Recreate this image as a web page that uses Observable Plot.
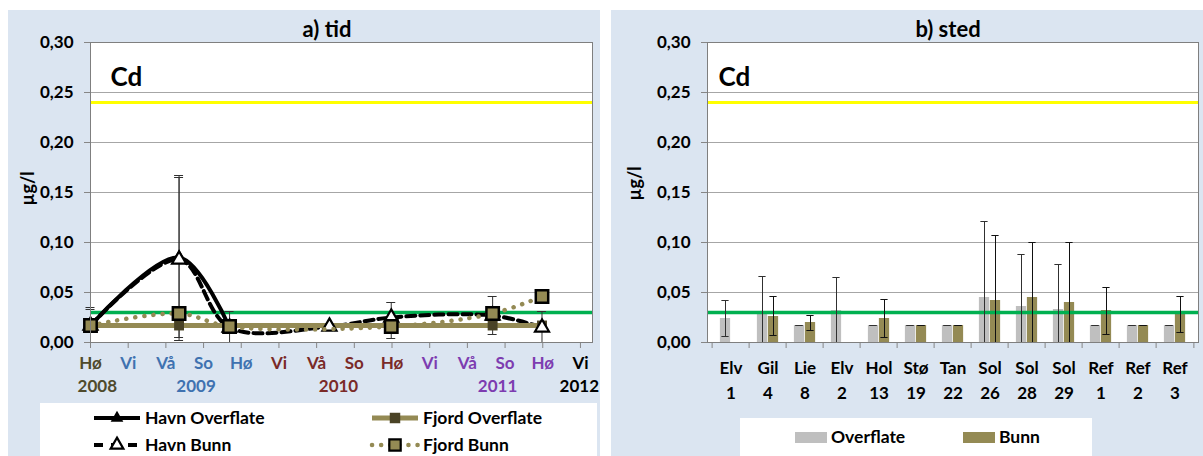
<!DOCTYPE html>
<html>
<head>
<meta charset="utf-8">
<script src="https://cdn.jsdelivr.net/npm/d3@7"></script>
<script src="https://cdn.jsdelivr.net/npm/@observablehq/plot@0.6"></script>
<style>
  body { margin: 0; background: #ffffff; font-family: Lato, "Open Sans", sans-serif; }
  #wrap { position: relative; width: 1203px; height: 456px; overflow: hidden; }
  .panel { position: absolute; top: 10px; height: 446px; background: #dbe5f1; }
  .panel svg.chart { position: absolute; left: 0; top: 0; }
  .title { position: absolute; font-weight: bold; font-size: 22px; transform: translate(-50%, -50%); white-space: nowrap; color: #000; }
  .legend { position: absolute; background: #ffffff; }
  .legend svg { display: block; }
</style>
</head>
<body>
<div id="wrap">
  <div class="panel" id="pA" style="left:8px; width:592px;">
    <div class="title" style="left:319px; top:18px;">a) tid</div>
    <div class="legend" id="legA" style="left:32px; top:393px; width:557px; height:53px;"></div>
  </div>
  <div class="panel" id="pB" style="left:611px; width:592px;">
    <div class="title" style="left:337px; top:18px;">b) sted</div>
    <div class="legend" id="legB" style="left:129px; top:408px; width:352px; height:38px;"></div>
  </div>
</div>
<script>
// ---------- shared ----------
const yTicks = [0, 0.05, 0.10, 0.15, 0.20, 0.25, 0.30];
const limitHigh = 0.24;   // yellow line
const limitLow = 0.03;    // green line
const element = "Cd";
const unit = "µg/l";

// ---------- a) tid ----------
const seasons = ["Hø","Vi","Vå","So","Hø","Vi","Vå","So","Hø","Vi","Vå","So","Hø","Vi"];
const seasonYear = ["2008","2009","2009","2009","2009","2010","2010","2010","2010","2011","2011","2011","2011","2012"];
const years = ["2008","2009","2010","2011","2012"];
const yearPos = [0.18, 2.8, 6.58, 10.8, 12.97];
const yearColors = ["#4f4a2c", "#3f72b0", "#7a2a28", "#7d3cb0", "#000000"];

// sampling times on the season axis (0 = Hø 2008)
const sampleTime = [0, 2.35, 3.69, 6.34, 7.98, 10.67, 11.98];
const havnOverflate = [0.017, 0.085, 0.015, null, null, null, null];
const havnOverflateLo = [0.000, 0.005, 0.000, null, null, null, null];
const havnOverflateHi = [0.035, 0.167, 0.031, null, null, null, null];
const havnBunn = [0.017, 0.083, 0.015, 0.016, 0.025, 0.027, 0.015];
const havnBunnLo = [0.000, 0.002, null, null, 0.004, 0.008, 0.000];
const havnBunnHi = [0.033, 0.165, null, null, 0.040, 0.046, 0.031];
const fjordOverflate = [0.017, 0.017, 0.017, null, 0.017, 0.017, 0.017];
const fjordBunn = [0.017, 0.029, 0.016, null, 0.016, 0.029, 0.046];

// ---------- b) sted ----------
const stations = ["Elv\n1","Gil\n4","Lie\n8","Elv\n2","Hol\n13","Stø\n19","Tan\n22","Sol\n26","Sol\n28","Sol\n29","Ref\n1","Ref\n2","Ref\n3"];
const overflate   = [0.024, 0.029, 0.017, 0.032, 0.017, 0.017, 0.017, 0.045, 0.036, 0.033, 0.017, 0.017, 0.017];
const overflateLo = [0.006, 0.000, 0.017, 0.000, 0.017, 0.017, 0.017, 0.000, 0.000, 0.000, 0.017, 0.017, 0.017];
const overflateHi = [0.042, 0.066, 0.017, 0.065, 0.017, 0.017, 0.017, 0.121, 0.088, 0.078, 0.017, 0.017, 0.017];
const bunn   = [null, 0.026, 0.020, null, 0.024, 0.017, 0.017, 0.042, 0.045, 0.040, 0.032, 0.017, 0.029];
const bunnLo = [null, 0.007, 0.012, null, 0.005, 0.017, 0.017, 0.000, 0.000, 0.000, 0.008, 0.017, 0.010];
const bunnHi = [null, 0.046, 0.027, null, 0.043, 0.017, 0.017, 0.107, 0.100, 0.100, 0.055, 0.017, 0.046];

// ---------- styles ----------
const olive = "#948a54";
const darkOlive = "#4a4326";
const grayBar = "#bfbfbf";
const axisGray = "#868686";
const gridGray = "#a6a6a6";
const errColor = "#303030";
const svgStyle = "font-family: Lato, 'Open Sans', sans-serif; font-size: 17px; font-weight: bold; background: transparent; overflow: visible;";
const fmt = d => d.toFixed(2).replace(".", ",");

// ---------- chart a ----------
(function () {
  const idx = d3.range(sampleTime.length);
  const ser = arr => idx.filter(i => arr[i] != null).map(i => ({t: sampleTime[i], v: arr[i]}));
  const err = (lo, hi) => idx.filter(i => lo[i] != null).map(i => ({t: sampleTime[i], lo: lo[i], hi: hi[i]}));
  const ho = ser(havnOverflate), hb = ser(havnBunn), fo = ser(fjordOverflate), fb = ser(fjordBunn);
  const errs = err(havnOverflateLo, havnOverflateHi).concat(err(havnBunnLo, havnBunnHi));

  const seasonMarks = years.map((yr, k) =>
    Plot.text(d3.range(seasons.length).filter(i => seasonYear[i] === yr), {
      x: i => i, text: i => seasons[i], frameAnchor: "bottom", dy: 21, lineAnchor: "middle", fill: yearColors[k]
    }));
  const yearMarks = years.map((yr, k) =>
    Plot.text([yr], {x: () => yearPos[k], text: d => d, frameAnchor: "bottom", dy: 44, lineAnchor: "middle", fill: yearColors[k]}));

  const chart = Plot.plot({
    width: 592, height: 394,
    marginLeft: 82, marginRight: 8, marginTop: 32, marginBottom: 62,
    x: {domain: [0, 13.32]},
    y: {domain: [0, 0.30]},
    style: svgStyle,
    marks: [
      Plot.frame({fill: "white"}),
      Plot.gridY(yTicks, {stroke: gridGray, strokeOpacity: 1}),
      Plot.ruleY([limitHigh], {stroke: "#ffff00", strokeWidth: 3}),
      Plot.ruleY([limitLow], {stroke: "#00b050", strokeWidth: 3.5}),
      Plot.ruleX(errs, {x: "t", y1: "lo", y2: "hi", stroke: errColor, strokeWidth: 1}),
      Plot.ruleY(errs, {x1: "t", x2: "t", y: "hi", insetLeft: -4.5, insetRight: -4.5, stroke: errColor}),
      Plot.ruleY(errs, {x1: "t", x2: "t", y: "lo", insetLeft: -4.5, insetRight: -4.5, stroke: errColor}),
      Plot.line(ho, {x: "t", y: "v", curve: "catmull-rom", stroke: "black", strokeWidth: 4}),
      Plot.dot(ho, {x: "t", y: "v", symbol: "triangle", r: 5.2, fill: "black"}),
      Plot.line(hb, {x: "t", y: "v", curve: "catmull-rom", stroke: "black", strokeWidth: 4, strokeDasharray: "9 5"}),
      Plot.line(fo, {x: "t", y: "v", stroke: olive, strokeWidth: 5}),
      Plot.dot(fo, {x: "t", y: "v", symbol: "square", r: 5.6, fill: darkOlive}),
      Plot.dot(hb, {x: "t", y: "v", symbol: "triangle", r: 5.2, fill: "white", stroke: "black", strokeWidth: 2.2}),
      Plot.line(fb, {x: "t", y: "v", curve: "catmull-rom", stroke: olive, strokeWidth: 4.5, strokeDasharray: "0.1 9", strokeLinecap: "round"}),
      Plot.dot(fb, {x: "t", y: "v", symbol: "square", r: 7, fill: olive, stroke: "black", strokeWidth: 2.5}),
      Plot.axisY({ticks: yTicks, tickFormat: fmt, tickSize: 6, tickPadding: 11, stroke: axisGray, label: null}),
      Plot.axisX({ticks: d3.range(seasons.length), tickFormat: () => "", tickSize: 6, stroke: axisGray, label: null}),
      ...seasonMarks,
      ...yearMarks,
      Plot.text([element], {text: d => d, frameAnchor: "top-left", dx: 20, dy: 35, lineAnchor: "middle", fontSize: 26}),
      Plot.text([unit], {text: d => d, frameAnchor: "left", rotate: -90, dx: -62, dy: 13, fontSize: 18}),
      Plot.frame({stroke: "#7f7f7f"})
    ]
  });
  chart.classList.add("chart");
  document.getElementById("pA").prepend(chart);
})();

// ---------- chart b ----------
(function () {
  const plotW = 592 - 96 - 5;
  const bw = plotW / stations.length;
  const barW = 11;
  const cap = 4;
  const ov = stations.map((s, i) => ({s, v: overflate[i], lo: overflateLo[i], hi: overflateHi[i]}));
  const bu = stations.map((s, i) => ({s, v: bunn[i], lo: bunnLo[i], hi: bunnHi[i]})).filter(d => d.v != null);
  const gL = bw / 2 - barW / 2, oL = bw / 2 + barW / 2;

  const chart = Plot.plot({
    width: 592, height: 394,
    marginLeft: 96, marginRight: 5, marginTop: 32, marginBottom: 62,
    x: {type: "band", domain: stations, padding: 0},
    y: {domain: [0, 0.30]},
    style: svgStyle,
    marks: [
      Plot.frame({fill: "white"}),
      Plot.gridY(yTicks, {stroke: gridGray, strokeOpacity: 1}),
      Plot.ruleY([limitHigh], {stroke: "#ffff00", strokeWidth: 3}),
      Plot.barY(ov, {x: "s", y: "v", fill: grayBar, insetLeft: bw / 2 - barW, insetRight: bw / 2}),
      Plot.barY(bu, {x: "s", y: "v", fill: olive, insetLeft: bw / 2, insetRight: bw / 2 - barW}),
      Plot.ruleY([limitLow], {stroke: "#00b050", strokeWidth: 3.5}),
      Plot.ruleX(ov, {x: "s", y1: "lo", y2: "hi", dx: -barW / 2, stroke: errColor}),
      Plot.tickY(ov, {x: "s", y: "hi", insetLeft: gL - cap, insetRight: bw - gL - cap, stroke: errColor}),
      Plot.tickY(ov, {x: "s", y: "lo", insetLeft: gL - cap, insetRight: bw - gL - cap, stroke: errColor}),
      Plot.ruleX(bu, {x: "s", y1: "lo", y2: "hi", dx: barW / 2, stroke: "#111"}),
      Plot.tickY(bu, {x: "s", y: "hi", insetLeft: oL - cap, insetRight: bw - oL - cap, stroke: "#111"}),
      Plot.tickY(bu, {x: "s", y: "lo", insetLeft: oL - cap, insetRight: bw - oL - cap, stroke: "#111"}),
      Plot.ruleX(stations, {x: d => d, dx: -bw / 2, insetTop: 300, insetBottom: -6, stroke: axisGray}),
      Plot.ruleX([stations[stations.length - 1]], {x: d => d, dx: bw / 2, insetTop: 300, insetBottom: -6, stroke: axisGray}),
      Plot.axisY({ticks: yTicks, tickFormat: fmt, tickSize: 6, tickPadding: 11, stroke: axisGray, label: null}),
      Plot.axisX({tickSize: 0, tickPadding: 14, lineHeight: 1.45, label: null}),
      Plot.text([element], {text: d => d, frameAnchor: "top-left", dx: 11, dy: 35, lineAnchor: "middle", fontSize: 26}),
      Plot.text([unit], {text: d => d, frameAnchor: "left", rotate: -90, dx: -72, dy: 8, fontSize: 18}),
      Plot.frame({stroke: "#7f7f7f"})
    ]
  });
  chart.classList.add("chart");
  document.getElementById("pB").prepend(chart);
})();

// ---------- legend a ----------
(function () {
  const items = [
    {name: "Havn Overflate", x: 54, y: 15, stroke: "black", w: 4, dash: null, sym: d3.symbolTriangle, size: 70, fill: "black", sstroke: "none"},
    {name: "Havn Bunn", x: 54, y: 42, stroke: "black", w: 4, dash: "9 8", sym: d3.symbolTriangle, size: 70, fill: "white", sstroke: "black"},
    {name: "Fjord Overflate", x: 332, y: 15, stroke: olive, w: 5, dash: null, sym: d3.symbolSquare, size: 110, fill: darkOlive, sstroke: "none"},
    {name: "Fjord Bunn", x: 332, y: 42, stroke: olive, w: 4.5, dash: "0.1 9", sym: d3.symbolSquare, size: 130, fill: olive, sstroke: "black"}
  ];
  const svg = d3.select("#legA").append("svg").attr("width", 557).attr("height", 53)
    .style("font-family", "Lato, 'Open Sans', sans-serif").style("font-size", "17.5px").style("font-weight", "bold");
  for (const it of items) {
    const g = svg.append("g");
    g.append("line").attr("x1", it.x).attr("x2", it.x + 46).attr("y1", it.y).attr("y2", it.y)
      .attr("stroke", it.stroke).attr("stroke-width", it.w)
      .attr("stroke-dasharray", it.dash).attr("stroke-linecap", it.dash === "0.1 9" ? "round" : "butt");
    g.append("path").attr("d", d3.symbol(it.sym, it.size)()).attr("transform", `translate(${it.x + 23},${it.y})`)
      .attr("fill", it.fill).attr("stroke", it.sstroke).attr("stroke-width", 2.2);
    g.append("text").attr("x", it.x + 51).attr("y", it.y).attr("dy", "0.35em").text(it.name);
  }
})();

// ---------- legend b ----------
(function () {
  const items = [{name: "Overflate", x: 55, fill: grayBar}, {name: "Bunn", x: 223, fill: olive}];
  const svg = d3.select("#legB").append("svg").attr("width", 352).attr("height", 38)
    .style("font-family", "Lato, 'Open Sans', sans-serif").style("font-size", "17.5px").style("font-weight", "bold");
  for (const it of items) {
    svg.append("rect").attr("x", it.x).attr("y", 14).attr("width", 32).attr("height", 11).attr("fill", it.fill);
    svg.append("text").attr("x", it.x + 36).attr("y", 19).attr("dy", "0.35em").text(it.name);
  }
})();
</script>
</body>
</html>
